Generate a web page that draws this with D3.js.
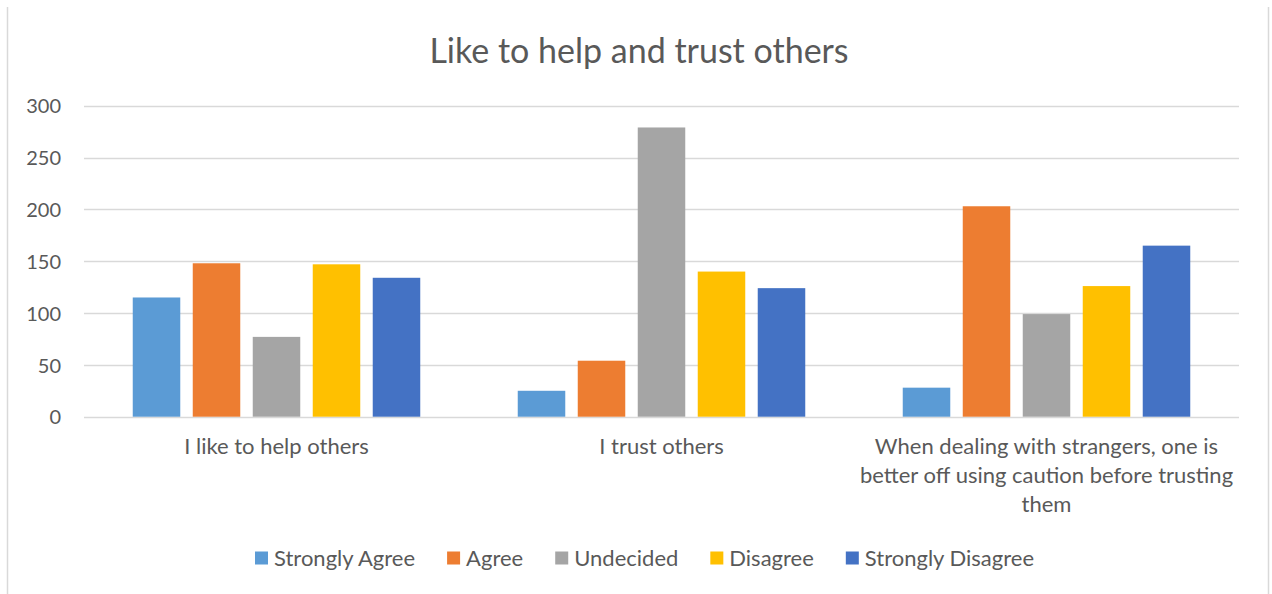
<!DOCTYPE html>
<html><head><meta charset="utf-8">
<script src="https://cdn.jsdelivr.net/npm/d3@7"></script>
<style>body{margin:0;background:#fff;} svg{display:block;}</style>
</head><body>
<svg id="chart" width="1272" height="594"></svg>
<script>
const categories = ["I like to help others", "I trust others", "When dealing with strangers, one is better off using caution before trusting them"];
const seriesNames = ["Strongly Agree", "Agree", "Undecided", "Disagree", "Strongly Disagree"];
const stronglyAgree = [115, 25, 28];
const agree = [148, 54, 203];
const undecided = [77, 279, 99];
const disagree = [147, 140, 126];
const stronglyDisagree = [134, 124, 165];
const yTicks = [0, 50, 100, 150, 200, 250, 300];
const colors = ["#5B9BD5", "#ED7D31", "#A5A5A5", "#FFC000", "#4472C4"];
const chartTitle = "Like to help and trust others";

(function() {
const seriesValues = [stronglyAgree, agree, undecided, disagree, stronglyDisagree];
const FONT = "Lato, 'Open Sans', sans-serif";
const TEXT = "#595959";

const svg = d3.select("#chart");
svg.append("rect").attr("width", 1272).attr("height", 594).attr("fill", "#fff");
svg.append("line").attr("x1", 7.5).attr("x2", 7.5).attr("y1", 7).attr("y2", 594).attr("stroke", "#d9d9d9").attr("stroke-width", 1.5);
svg.append("line").attr("x1", 1268.5).attr("x2", 1268.5).attr("y1", 7).attr("y2", 594).attr("stroke", "#d9d9d9").attr("stroke-width", 1.5);

const pLeft = 84, pRight = 1239, pTop = 105.7, pBottom = 416.7;
const x0 = d3.scaleBand().domain(categories).range([pLeft, pRight]).paddingInner(0).paddingOuter(0);
const x1 = d3.scaleBand().domain(seriesNames).range([0, x0.bandwidth()]).paddingInner(0.208).paddingOuter(0.8125);
const y = d3.scaleLinear().domain([0, 300]).range([pBottom, pTop]);

svg.append("text").attr("x", 639).attr("y", 63).attr("text-anchor", "middle")
  .attr("font-family", FONT).attr("font-size", 34).attr("fill", TEXT).text(chartTitle);

svg.append("g").selectAll("line").data(yTicks).join("line")
  .attr("x1", pLeft).attr("x2", pRight)
  .attr("y1", d => Math.round(y(d)) + 0.5).attr("y2", d => Math.round(y(d)) + 0.5)
  .attr("stroke", "#d9d9d9").attr("stroke-width", 1.3);

const yAxis = d3.axisLeft(y).tickValues(yTicks).tickSize(0).tickPadding(0);
const gy = svg.append("g").attr("transform", `translate(61,0)`).call(yAxis);
gy.select(".domain").remove();
gy.selectAll("text").attr("font-family", FONT).attr("font-size", 20).attr("fill", TEXT).attr("dy", "0.36em");

const groups = svg.append("g").selectAll("g").data(categories).join("g")
  .attr("transform", d => `translate(${x0(d)},0)`);
groups.selectAll("rect").data((d, i) => seriesNames.map((s, j) => ({s, j, v: seriesValues[j][i]})))
  .join("rect")
  .attr("x", d => x1(d.s)).attr("width", x1.bandwidth())
  .attr("y", d => y(d.v)).attr("height", d => y(0) - y(d.v))
  .attr("fill", d => colors[d.j]);

const xl = svg.append("g").selectAll("text").data(categories).join("text")
  .attr("x", d => x0(d) + x0.bandwidth() / 2).attr("y", 454)
  .attr("text-anchor", "middle").attr("font-family", FONT).attr("font-size", 22).attr("fill", TEXT);
xl.each(function(d) {
  const t = d3.select(this);
  const words = d.split(" ");
  const maxW = x0.bandwidth() - 2;
  let line = [];
  let tspan = t.append("tspan").attr("x", t.attr("x")).attr("dy", 0);
  for (const w of words) {
    line.push(w);
    tspan.text(line.join(" "));
    if (tspan.node().getComputedTextLength() > maxW && line.length > 1) {
      line.pop();
      tspan.text(line.join(" "));
      line = [w];
      tspan = t.append("tspan").attr("x", t.attr("x")).attr("dy", 29).text(w);
    }
  }
});

const legend = svg.append("g");
const items = legend.selectAll("g").data(seriesNames).join("g");
items.append("rect").attr("width", 13).attr("height", 13).attr("y", -6.5).attr("fill", (d, i) => colors[i]);
items.append("text").attr("x", 19).attr("dy", "0.36em").attr("font-family", FONT).attr("font-size", 22).attr("fill", TEXT).text(d => d);
let xpos = 0;
const pos = [];
items.each(function() {
  pos.push(xpos);
  const w = 19 + d3.select(this).select("text").node().getComputedTextLength();
  xpos += w + 32;
});
const totalW = xpos - 32;
items.attr("transform", (d, i) => `translate(${pos[i]},0)`);
legend.attr("transform", `translate(${644.5 - totalW / 2},558)`);
})();
</script>
</body></html>
